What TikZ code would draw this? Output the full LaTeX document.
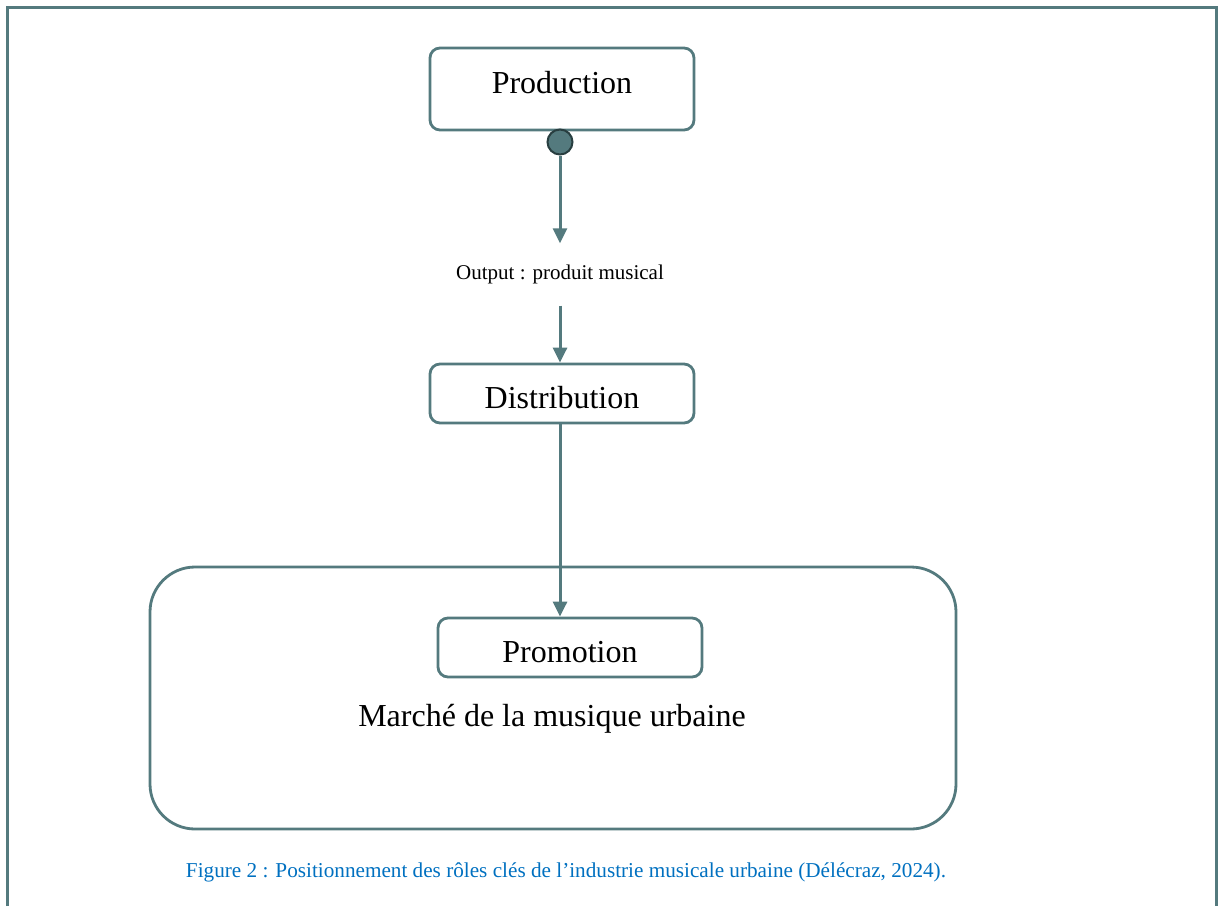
\documentclass[tikz,border=0pt]{standalone}
\usepackage{fontspec}
\setmainfont{Liberation Serif}
\usetikzlibrary{arrows.meta}
\definecolor{teal}{RGB}{84,122,126}
\definecolor{tealdark}{RGB}{40,62,64}
\definecolor{capblue}{RGB}{0,112,192}
\tikzset{
  stepbox/.style={draw=teal, line width=2.8pt, rounded corners=10pt, fill=white,
    minimum width=264pt, inner sep=0pt, font=\fontsize{32}{37}\selectfont},
  flow/.style={draw=teal, line width=3pt, -{Triangle[length=15pt,width=14pt]}},
}
\begin{document}
\begin{tikzpicture}[x=1pt,y=-1pt]
  \useasboundingbox (0,0) rectangle (1218,906);
  % outer frame (open at the bottom)
  \draw[teal, line width=3pt] (7,906) -- (7,7) -- (1216,7) -- (1216,906);

  % market container
  \node[draw=teal, line width=2.8pt, rounded corners=45pt, minimum width=806pt,
        minimum height=262pt, inner sep=0pt] (market) at (553,698) {};
  \node[font=\fontsize{32}{37}\selectfont] (marketlbl) at (552,719) {Marché de la musique urbaine};

  % stages
  \node[stepbox, minimum height=82pt, text height=22pt, text depth=14pt] (prod) at (562,89) {Production};
  \node[draw=tealdark, fill=teal, line width=2pt, circle, minimum size=25pt, inner sep=0pt] (dot) at (560,142) {};
  \node[font=\fontsize{21}{25}\selectfont, minimum height=62pt, inner sep=0pt] (out) at (560,274.5) {Output : produit musical};
  \node[stepbox, minimum height=59pt, text height=29pt, text depth=0pt] (dist) at (562,393.5) {Distribution};
  \node[stepbox, minimum height=59pt, text height=29pt, text depth=0pt] (promo) at (570,647.5) {Promotion};

  % connectors
  \draw[flow] (dot.south) -- (out.north);
  \draw[flow] (out.south) -- (out.south |- dist.north);
  \draw[flow] (out.south |- dist.south) -- (out.south |- promo.north);

  % caption
  \node[text=capblue, font=\fontsize{21.2}{25}\selectfont] (caption) at (566,872)
    {Figure 2 : Positionnement des rôles clés de l’industrie musicale urbaine (Délécraz, 2024).};
\end{tikzpicture}
\end{document}
